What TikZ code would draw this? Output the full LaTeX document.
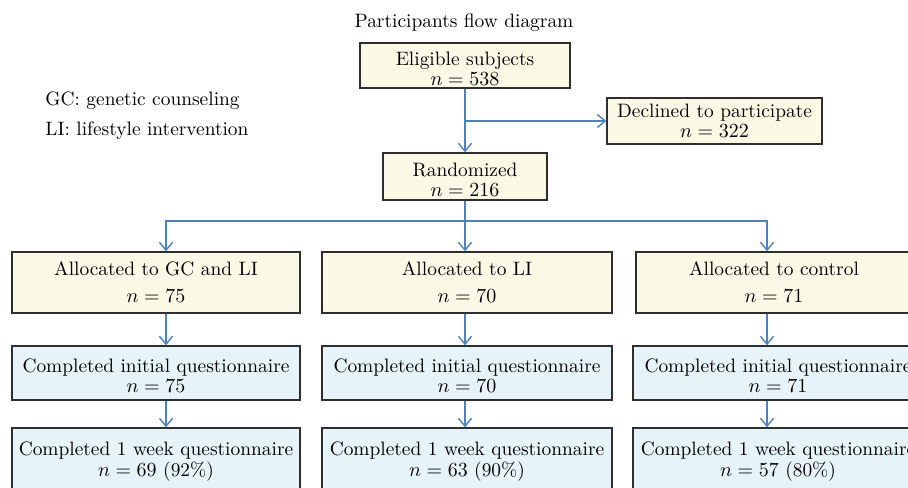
\documentclass[tikz,border=0pt]{standalone}
\usetikzlibrary{arrows.meta}
\definecolor{boxyellow}{HTML}{FAF9E6}
\definecolor{boxblue}{HTML}{E6F3F8}
\definecolor{flowblue}{HTML}{4F81BD}
\definecolor{boxline}{HTML}{2E2E2E}
% taller first line, so that two-line texts sit a little lower in their box
\newcommand{\lowstrut}{\rule{0pt}{9.5pt}}

\begin{document}
\begin{tikzpicture}[x=0.5pt,y=-0.5pt,
  every node/.style={font=\fontsize{9.7}{10}\selectfont},
  ybox/.style={draw=boxline,line width=0.65pt,fill=boxyellow,align=center,inner sep=0pt},
  bbox/.style={ybox,fill=boxblue},
  link/.style={draw=flowblue,line width=0.7pt},
  flow/.style={link,-{Straight Barb[length=4pt,width=6.5pt]}}]
\useasboundingbox (0,0) rectangle (908,487);

% title and legend
\node[anchor=base] (title) at (464,27) {Participants flow diagram};
\node[anchor=base west,inner sep=0pt] (gc) at (45,105) {GC: genetic counseling};
\node[anchor=base west,inner sep=0pt] (li) at (45,135) {LI: lifestyle intervention};

% enrolment
\node[ybox,minimum width=105pt,minimum height=22.5pt] (elig) at (465,65.5) {\lowstrut Eligible subjects\\$n=538$};
\node[ybox,minimum width=107.5pt,minimum height=23pt] (decl) at (714.5,121) {Declined to participate\\$n=322$};
\node[ybox,minimum width=82pt,minimum height=23.5pt] (rand) at (465,176.5) {\lowstrut Randomized\\$n=216$};

% three arms
\node[ybox,minimum width=144pt,minimum height=30.5pt] (a1) at (156,282.5) {Allocated to GC and LI\\[3.5pt]$n=75$};
\node[ybox,minimum width=145pt,minimum height=30.5pt] (a2) at (467,282.5) {Allocated to LI\\[3.5pt]$n=70$};
\node[ybox,minimum width=138pt,minimum height=30.5pt] (a3) at (774,282.5) {Allocated to control\\[3.5pt]$n=71$};

\node[bbox,minimum width=144pt,minimum height=27pt] (b1) at (156,373) {\lowstrut Completed initial questionnaire\\$n=75$};
\node[bbox,minimum width=145pt,minimum height=27pt] (b2) at (467,373) {\lowstrut Completed initial questionnaire\\$n=70$};
\node[bbox,minimum width=145pt,minimum height=27pt] (b3) at (778,373) {\lowstrut Completed initial questionnaire\\$n=71$};

\node[bbox,minimum width=144pt,minimum height=34pt] (c1) at (156,462) {Completed 1 week questionnaire\\[0.5pt]$n=69$ (92\%)};
\node[bbox,minimum width=145pt,minimum height=34pt] (c2) at (467,462) {Completed 1 week questionnaire\\[0.5pt]$n=63$ (90\%)};
\node[bbox,minimum width=145pt,minimum height=34pt] (c3) at (778,462) {Completed 1 week questionnaire\\[0.5pt]$n=57$ (80\%)};

% connectors
\coordinate (col1) at (166,221);
\coordinate (col2) at (465,221);
\coordinate (col3) at (767,221);

\draw[flow] (elig) -- (rand);
\draw[flow] (elig.south |- decl.west) -- (decl.west);
\draw[link] (rand) -- (col2);
\draw[flow] (col2) -- (col1) -- (col1 |- a1.north);
\draw[flow] (col2) -- (col3) -- (col3 |- a3.north);
\draw[flow] (col2) -- (col2 |- a2.north);
\foreach \c in {1,2,3} {
  \draw[flow] (a\c.south -| col\c) -- (b\c.north -| col\c);
  \draw[flow] (b\c.south -| col\c) -- (c\c.north -| col\c);
}
\end{tikzpicture}
\end{document}
